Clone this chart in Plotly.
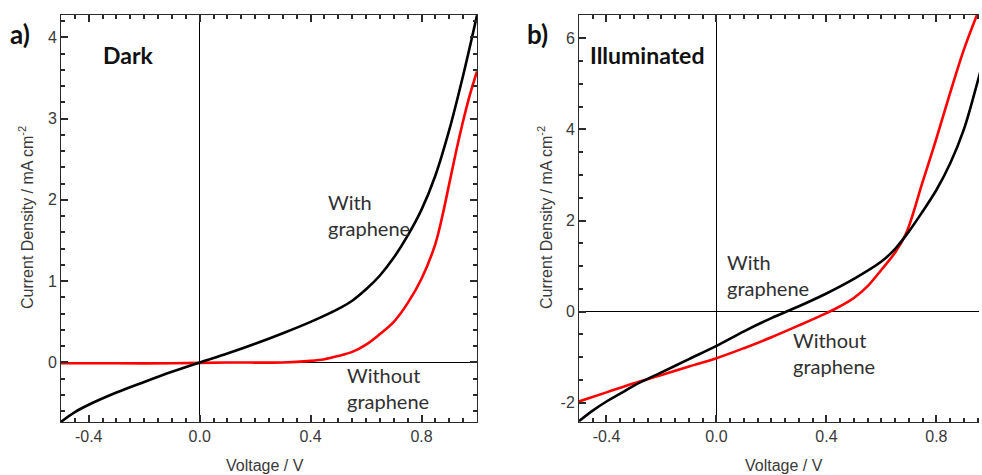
import plotly.graph_objects as go

# ---- J-V data, panel a) (dark) ----
v_dark_with = [-0.5, -0.45, -0.4, -0.3, -0.2, -0.1, 0.0, 0.1, 0.2, 0.3, 0.4, 0.5, 0.55, 0.6, 0.65,
               0.7, 0.75, 0.8, 0.85, 0.9, 0.95, 1.0]
j_dark_with = [-0.73, -0.61, -0.52, -0.37, -0.24, -0.115, 0.0, 0.11, 0.23, 0.36, 0.5, 0.66, 0.76, 0.9, 1.07,
               1.29, 1.56, 1.88, 2.3, 2.86, 3.53, 4.27]

v_dark_without = [-0.5, -0.3, -0.1, 0.1, 0.3, 0.4, 0.45, 0.5, 0.55, 0.6, 0.65, 0.7, 0.75, 0.8,
                  0.85, 0.875, 0.9, 0.925, 0.95, 0.975, 1.0]
j_dark_without = [-0.01, -0.01, -0.01, 0.0, 0.0, 0.02, 0.04, 0.08, 0.13, 0.22, 0.35, 0.5, 0.73, 1.03,
                  1.46, 1.8, 2.2, 2.6, 2.97, 3.3, 3.58]

# ---- J-V data, panel b) (illuminated) ----
v_light_with = [-0.5, -0.45, -0.4, -0.35, -0.3, -0.2, -0.1, 0.0, 0.1, 0.2, 0.3, 0.4, 0.5, 0.6, 0.65, 0.7,
                0.75, 0.8, 0.85, 0.9, 0.95, 0.97]
j_light_with = [-2.4, -2.17, -1.97, -1.8, -1.62, -1.33, -1.04, -0.75, -0.43, -0.14, 0.12, 0.4, 0.72, 1.1, 1.38, 1.76,
                2.2, 2.67, 3.25, 4.0, 5.05, 5.5]

v_light_without = [-0.5, -0.4, -0.3, -0.2, -0.1, 0.0, 0.1, 0.2, 0.3, 0.4, 0.45, 0.5, 0.55, 0.6,
                   0.65, 0.69, 0.75, 0.8, 0.85, 0.9, 0.95]
j_light_without = [-1.97, -1.77, -1.57, -1.39, -1.2, -1.02, -0.8, -0.56, -0.3, -0.03, 0.12, 0.3, 0.56, 0.92,
                   1.3, 1.72, 2.85, 3.8, 4.8, 5.75, 6.55]

x_ticks = [-0.4, 0.0, 0.4, 0.8]
x_tick_text = ["-0.4", "0.0", "0.4", "0.8"]
y_dark_ticks = [0, 1, 2, 3, 4]
y_dark_text = ["0", "1", "2", "3", "4"]
y_light_ticks = [-2, 0, 2, 4, 6]
y_light_text = ["-2", "0", "2", "4", "6"]

W, H = 982, 475
ML, MR, MT, MB = 10, 3, 15, 53
PW, PH = W - ML - MR, H - MT - MB

AXIS_FONT = dict(family="Arial", size=16, color="#3a3a3a")
LABEL_FONT = dict(family="Lato", size=20, color="#303030")
BOLD_FONT = dict(family="Lato", size=23, color="#111111", weight="bold")
AX_COLOR = "#2a2a2a"


def px(x):
    # pixel column -> paper coordinate
    return (x - ML) / PW


def py(y):
    # pixel row -> paper coordinate
    return (H - MB - y) / PH


fig = go.Figure()

line_w = 2.6
spl = dict(shape="spline", smoothing=1.0)
fig.add_trace(go.Scatter(x=v_dark_without, y=j_dark_without, mode="lines", line=dict(color="#ff0000", width=line_w, **spl), xaxis="x", yaxis="y"))
fig.add_trace(go.Scatter(x=v_dark_with, y=j_dark_with, mode="lines", line=dict(color="#000000", width=line_w, **spl), xaxis="x", yaxis="y"))
fig.add_trace(go.Scatter(x=v_light_without, y=j_light_without, mode="lines", line=dict(color="#ff0000", width=line_w, **spl), xaxis="x2", yaxis="y2"))
fig.add_trace(go.Scatter(x=v_light_with, y=j_light_with, mode="lines", line=dict(color="#000000", width=line_w, **spl), xaxis="x2", yaxis="y2"))

fig.update_layout(
    template="none", width=W, height=H, margin=dict(l=ML, r=MR, t=MT, b=MB),
    paper_bgcolor="white", plot_bgcolor="white", showlegend=False,
    xaxis=dict(domain=[px(61), px(477)], range=[-0.5, 1.0], anchor="y"),
    yaxis=dict(domain=[0, 1], range=[-0.732, 4.274], tickvals=y_dark_ticks, ticktext=y_dark_text, anchor="x"),
    xaxis2=dict(domain=[px(579), 1], range=[-0.5, 0.955], anchor="y2"),
    yaxis2=dict(domain=[0, 1], range=[-2.42, 6.51], tickvals=y_light_ticks, ticktext=y_light_text, anchor="x2"),
)
fig.update_xaxes(ticks="inside", ticklen=7, tickwidth=1.5, tickcolor=AX_COLOR, showline=True,
                 linecolor=AX_COLOR, linewidth=1, mirror="ticks", showgrid=False,
                 zeroline=True, zerolinecolor="#000000", zerolinewidth=1,
                 tickvals=x_ticks, ticktext=x_tick_text, tickfont=AXIS_FONT,
                 minor=dict(ticks="inside", ticklen=4, tickwidth=1.5, tickcolor=AX_COLOR, dtick=0.05))
fig.update_yaxes(ticks="inside", ticklen=7, tickwidth=1.5, tickcolor=AX_COLOR, showline=True,
                 linecolor=AX_COLOR, linewidth=1, showgrid=False,
                 zeroline=True, zerolinecolor="#000000", zerolinewidth=1, tickfont=AXIS_FONT)
fig.update_layout(
    yaxis=dict(mirror="ticks", minor=dict(ticks="inside", ticklen=4, tickwidth=1.5, tickcolor=AX_COLOR, dtick=0.2)),
    yaxis2=dict(mirror=False, minor=dict(ticks="inside", ticklen=4, tickwidth=1.5, tickcolor=AX_COLOR, dtick=0.5)),
)

ann = []
# axis titles
for cx in (265, 784):
    ann.append(dict(text="Voltage / V", x=px(cx), y=py(465), xref="paper", yref="paper",
                    showarrow=False, xanchor="center", yanchor="middle", font=AXIS_FONT))
for cx in (26, 545):
    ann.append(dict(text="Current Density / mA cm<sup>-2</sup>", x=px(cx), y=py(218), xref="paper",
                    yref="paper", showarrow=False, textangle=-90, xanchor="center",
                    yanchor="middle", font=AXIS_FONT))
# panel letters and titles
ann.append(dict(text="a)", x=px(8), y=py(34), xref="paper", yref="paper", showarrow=False,
                xanchor="left", yanchor="middle", font=dict(BOLD_FONT, size=26)))
ann.append(dict(text="b)", x=px(525), y=py(34), xref="paper", yref="paper", showarrow=False,
                xanchor="left", yanchor="middle", font=dict(BOLD_FONT, size=26)))
ann.append(dict(text="Dark", x=px(101), y=py(55), xref="paper", yref="paper", showarrow=False,
                xanchor="left", yanchor="middle", font=BOLD_FONT))
ann.append(dict(text="Illuminated", x=px(588), y=py(55), xref="paper", yref="paper", showarrow=False,
                xanchor="left", yanchor="middle", font=BOLD_FONT))
# curve labels
ann.append(dict(text="With<br>graphene", x=0.455, y=1.81, xref="x", yref="y", showarrow=False,
                xanchor="left", yanchor="middle", align="left", font=LABEL_FONT))
ann.append(dict(text="Without<br>graphene", x=0.525, y=-0.31, xref="x", yref="y", showarrow=False,
                xanchor="left", yanchor="middle", align="left", font=LABEL_FONT))
ann.append(dict(text="With<br>graphene", x=0.03, y=0.8, xref="x2", yref="y2", showarrow=False,
                xanchor="left", yanchor="middle", align="left", font=LABEL_FONT))
ann.append(dict(text="Without<br>graphene", x=0.27, y=-0.91, xref="x2", yref="y2", showarrow=False,
                xanchor="left", yanchor="middle", align="left", font=LABEL_FONT))
fig.update_layout(annotations=ann)

fig.write_html("out.html")
